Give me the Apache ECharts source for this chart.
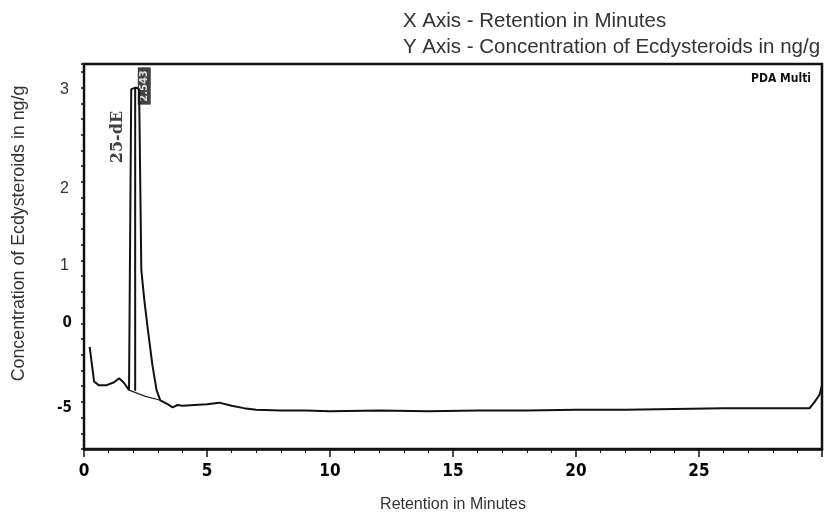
<!DOCTYPE html>
<html>
<head>
<meta charset="utf-8">
<style>html,body{margin:0;padding:0;background:#fff}#c{width:830px;height:519px}</style>
<script src="https://cdn.jsdelivr.net/npm/echarts@6/dist/echarts.min.js"></script>
</head>
<body>
<div id="c"></div>
<script>
// Retention time (min) and detector signal (axis units)
const retention = [0.23, 0.41, 0.61, 0.9, 1.22, 1.43, 1.63, 1.83, 1.92, 2.0, 2.12, 2.24, 2.33, 2.45, 2.6, 2.78, 2.95, 3.1, 3.4, 3.6, 3.8, 4.0, 4.5, 5.0, 5.5, 6.0, 6.5, 7.0, 8.0, 9.0, 10.0, 12.0, 14.0, 16.0, 18.0, 20.0, 22.0, 24.0, 26.0, 28.0, 29.0, 29.5, 29.7, 29.9, 30.0];
const signal    = [-0.30, -0.74, -0.79, -0.79, -0.75, -0.70, -0.76, -0.85, 2.98, 3.0, 3.0, 2.98, 0.68, 0.30, -0.09, -0.53, -0.85, -0.98, -1.03, -1.07, -1.04, -1.05, -1.04, -1.03, -1.01, -1.05, -1.08, -1.10, -1.11, -1.11, -1.12, -1.11, -1.12, -1.11, -1.11, -1.10, -1.10, -1.09, -1.08, -1.08, -1.08, -1.08, -1.0, -0.91, -0.79];
// integration baseline under the peak
const baseTime = [1.83, 2.5, 3.1, 3.4];
const baseVal  = [-0.85, -0.93, -0.98, -1.03];
// peak marker line
const markTime = [2.08, 2.08];
const markVal  = [-0.86, 3.0];
// peak annotations
const peakNames = ['25-dE', '2.543'];
const peakNameTime = [1.36, 2.45];
const peakNameVal  = [2.37, 3.02];
// y tick labels (text) and where they sit on the axis
const yTickText = ['3', '2', '1', '0', '-5'];
const yTickAt   = [2.97, 1.72, 0.74, 0.0, -1.08];
const xTicks = [0, 5, 10, 15, 20, 25];

const zip = (a, b) => a.map((v, i) => [v, b[i]]);
const NARROW = "'DejaVu Sans Condensed', 'DejaVu Sans', sans-serif";

const chart = echarts.init(document.getElementById('c'));
chart.setOption({
  animation: false,
  backgroundColor: '#fff',
  title: [
    {text: 'X Axis - Retention in Minutes', left: 398, top: 6,
     textStyle: {fontFamily: 'Liberation Sans', fontSize: 20.5, fontWeight: 'normal', color: '#333'}},
    {text: 'Y Axis - Concentration of Ecdysteroids in ng/g', left: 398, top: 32,
     textStyle: {fontFamily: 'Liberation Sans', fontSize: 20.5, fontWeight: 'normal', color: '#333'}},
    {text: 'PDA Multi', right: 14, top: 68,
     textStyle: {fontFamily: NARROW, fontSize: 12, fontWeight: 'bold', color: '#111'}}
  ],
  grid: {left: 84, right: 8, top: 64, bottom: 70, show: true, borderColor: '#111', borderWidth: 2.5,
         outerBoundsMode: 'none', containLabel: false},
  xAxis: {
    type: 'value', min: 0, max: 30, interval: 5,
    name: 'Retention in Minutes', nameLocation: 'middle', nameGap: 48,
    nameTextStyle: {fontFamily: 'Liberation Sans', fontSize: 16, color: '#333'},
    axisLine: {show: true, onZero: false, lineStyle: {color: '#111', width: 2.5}},
    axisTick: {show: true, length: 8, lineStyle: {color: '#111', width: 1.5}},
    minorTick: {show: true, splitNumber: 5, length: 4, lineStyle: {color: '#111', width: 1}},
    splitLine: {show: false},
    axisLabel: {
      margin: 14, color: '#000', fontFamily: NARROW, fontWeight: 'bold', fontSize: 17,
      customValues: xTicks
    }
  },
  yAxis: {
    type: 'value', min: -1.6, max: 3.3, interval: 0.2,
    name: 'Concentration of Ecdysteroids in ng/g', nameLocation: 'middle', nameGap: 56,
    nameTextStyle: {fontFamily: 'Liberation Sans', fontSize: 17.8, color: '#333', padding: [0, 0, 0, 46]},
    axisLine: {show: true, onZero: false, lineStyle: {color: '#111', width: 2}},
    axisTick: {show: true, length: 3, lineStyle: {color: '#111', width: 1.5}},
    splitLine: {show: false},
    axisLabel: {
      margin: 12, color: '#333', fontFamily: 'Liberation Sans', fontSize: 16,
      customValues: yTickAt,
      formatter: function (v) {
        let best = 0, d = 1e9;
        yTickAt.forEach((p, i) => { if (Math.abs(p - v) < d) { d = Math.abs(p - v); best = i; } });
        const t = yTickText[best];
        return (t === '0' || t === '-5') ? '{b|' + t + '}' : '{n|' + t + '}';
      },
      rich: {
        b: {fontFamily: NARROW, fontWeight: 'bold', fontSize: 15, color: '#111'},
        n: {fontFamily: 'Liberation Sans', fontSize: 16, color: '#333', padding: [0, 3, 0, 0]}
      }
    }
  },
  series: [
    {type: 'line', data: zip(retention, signal), symbol: 'none', lineStyle: {color: '#111', width: 2}},
    {type: 'line', data: zip(baseTime, baseVal), symbol: 'none', lineStyle: {color: '#222', width: 1.2}},
    {type: 'line', data: zip(markTime, markVal), symbol: 'none', lineStyle: {color: '#111', width: 2}},
    {
      type: 'scatter', symbolSize: 1, itemStyle: {color: 'rgba(0,0,0,0)'},
      data: peakNames.map((n, i) => ({
        value: [peakNameTime[i], peakNameVal[i]], name: n,
        label: i === 0
          ? {show: true, position: 'inside', formatter: n, rotate: 90,
             fontFamily: 'DejaVu Serif', fontWeight: 'bold', fontSize: 16, color: '#111'}
          : {show: true, position: 'inside', formatter: n, rotate: 90,
             fontFamily: NARROW, fontWeight: 'bold', fontSize: 11, color: '#fff',
             backgroundColor: '#111', padding: [1, 3]}
      }))
    }
  ]
});
</script>
</body>
</html>
